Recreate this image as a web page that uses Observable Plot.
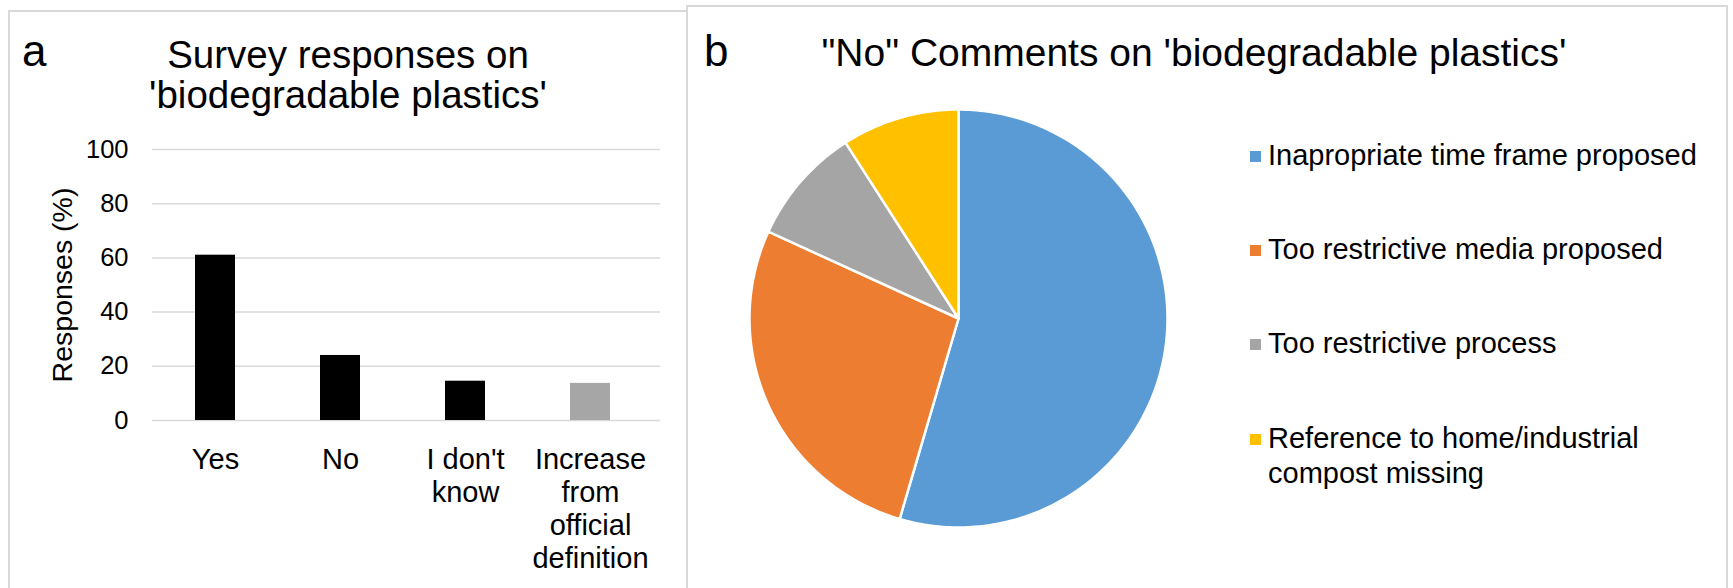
<!DOCTYPE html>
<html><head><meta charset="utf-8">
<script src="https://cdn.jsdelivr.net/npm/d3@7"></script>
<script src="https://cdn.jsdelivr.net/npm/@observablehq/plot@0.6"></script>
<style>
body{margin:0;background:#fff;font-family:"Liberation Sans",Arial,sans-serif;}
#root{position:relative;width:1733px;height:588px;overflow:hidden;background:#fff;}
.panel{position:absolute;border:2px solid #d9d9d9;box-sizing:border-box;}
.abs{position:absolute;white-space:nowrap;color:#000;}
svg{overflow:visible;}
</style></head><body><div id="root"></div>
<script>
// ---- data ----
const barCategories = ["Yes", "No", "I don't know", "Increase from official definition"];
const barLabels = ["Yes", "No", "I don't\nknow", "Increase\nfrom\nofficial\ndefinition"];
const barValues = [61, 24, 14.5, 13.7];
const barColors = ["#000000", "#000000", "#000000", "#a6a6a6"];
const yTicks = [0, 20, 40, 60, 80, 100];

const pieCategories = ["Inapropriate time frame proposed", "Too restrictive media proposed", "Too restrictive process", "Reference to home/industrial compost missing"];
const pieLegendLabels = ["Inapropriate time frame proposed", "Too restrictive media proposed", "Too restrictive process", "Reference to home/industrial<br>compost missing"];
const pieValues = [6, 3, 1, 1];
const pieColors = ["#5b9bd5", "#ed7d31", "#a5a5a5", "#ffc000"];

const root = document.getElementById("root");
const FONT = "Liberation Sans, Arial, sans-serif";

function addDiv(cls, css, html) {
  const d = document.createElement("div");
  d.className = cls;
  d.style.cssText = css;
  if (html != null) d.innerHTML = html;
  root.appendChild(d);
  return d;
}

// panel borders
addDiv("panel", "left:8px;top:10px;width:680px;height:600px;");
addDiv("panel", "left:686px;top:5px;width:1042px;height:600px;");

// ---- bar chart ----
const barData = barCategories.map((c, i) => ({cat: c, value: barValues[i]}));
const bar = Plot.plot({
  width: 688, height: 588,
  marginTop: 149, marginBottom: 168, marginLeft: 152, marginRight: 28,
  style: {fontFamily: FONT, background: "transparent", color: "#000", fontSize: "25.5px"},
  x: {domain: barCategories, range: [152, 653], paddingInner: 0.68, paddingOuter: 0.34},
  y: {domain: [0, 100]},
  color: {domain: barCategories, range: barColors},
  marks: [
    Plot.ruleY(yTicks, {stroke: "#d9d9d9", strokeWidth: 1.5}),
    Plot.barY(barData, {x: "cat", y: "value", fill: "cat"}),
    Plot.axisY(yTicks, {tickSize: 0, tickPadding: 24, fontSize: 25.5, label: null}),
    Plot.axisX({tickSize: 0, tickPadding: 25, fontSize: 29, lineHeight: 1.14, label: null,
      tickFormat: d => barLabels[barCategories.indexOf(d)]}),
    Plot.text(["Responses (%)"], {frameAnchor: "left", dx: -90, rotate: -90, textAnchor: "middle", fontSize: 28.5})
  ]
});
bar.style.position = "absolute";
bar.style.left = "0px";
bar.style.top = "0px";
bar.querySelectorAll('[aria-label="y-axis tick label"]').forEach(g => g.setAttribute("font-size", "25.5"));
root.appendChild(bar);

// ---- pie chart ----
const total = d3.sum(pieValues);
let acc = 0;
const pieRows = [];
pieCategories.forEach((c, i) => {
  const a0 = acc / total * 2 * Math.PI;
  acc += pieValues[i];
  const a1 = acc / total * 2 * Math.PI;
  const n = Math.max(2, Math.ceil((a1 - a0) / (Math.PI / 180)));
  pieRows.push({cat: c, x: 0, y: 0});
  for (let k = 0; k <= n; k++) {
    const a = a0 + (a1 - a0) * k / n;
    pieRows.push({cat: c, x: Math.sin(a), y: Math.cos(a)});
  }
  pieRows.push({cat: c, x: 0, y: 0});
});
const R = 209, S = 220;
const pie = Plot.plot({
  width: 2 * S, height: 2 * S,
  margin: 0,
  style: {background: "transparent"},
  x: {domain: [-S / R, S / R], axis: null},
  y: {domain: [-S / R, S / R], axis: null},
  color: {domain: pieCategories, range: pieColors},
  marks: [
    Plot.line(pieRows, {x: "x", y: "y", z: "cat", fill: "cat", stroke: "white", strokeWidth: 2.5, strokeLinejoin: "round"})
  ]
});
pie.style.position = "absolute";
pie.style.left = (957.5 - S) + "px";
pie.style.top = (318 - S) + "px";
root.appendChild(pie);

// ---- titles ----
function topFor(baseline, F, L) { return baseline - ((L - 1.117 * F) / 2 + 0.905 * F); }
addDiv("abs", `left:22px;top:${topFor(66, 44, 44)}px;font-size:44px;line-height:44px;`, "a");
addDiv("abs", `left:0px;width:696px;text-align:center;top:${topFor(68, 38.5, 40)}px;font-size:38.5px;line-height:40px;`, "Survey responses on<br>'biodegradable plastics'");
addDiv("abs", `left:704px;top:${topFor(66, 44, 44)}px;font-size:44px;line-height:44px;`, "b");
addDiv("abs", `left:694px;width:1000px;text-align:center;top:${topFor(66, 39, 39)}px;font-size:39px;line-height:39px;`, "\"No\" Comments on 'biodegradable plastics'");

// ---- legend ----
const legBase = [166, 260, 354, 449];
pieLegendLabels.forEach((lab, i) => {
  const F = 29, L = 35;
  addDiv("abs", `left:1250px;top:${legBase[i] - 0.33 * F - 5.5}px;width:11px;height:11px;background:${pieColors[i]};`);
  addDiv("abs", `left:1268px;top:${topFor(legBase[i], F, L)}px;font-size:${F}px;line-height:${L}px;`, lab);
});
</script></body></html>
